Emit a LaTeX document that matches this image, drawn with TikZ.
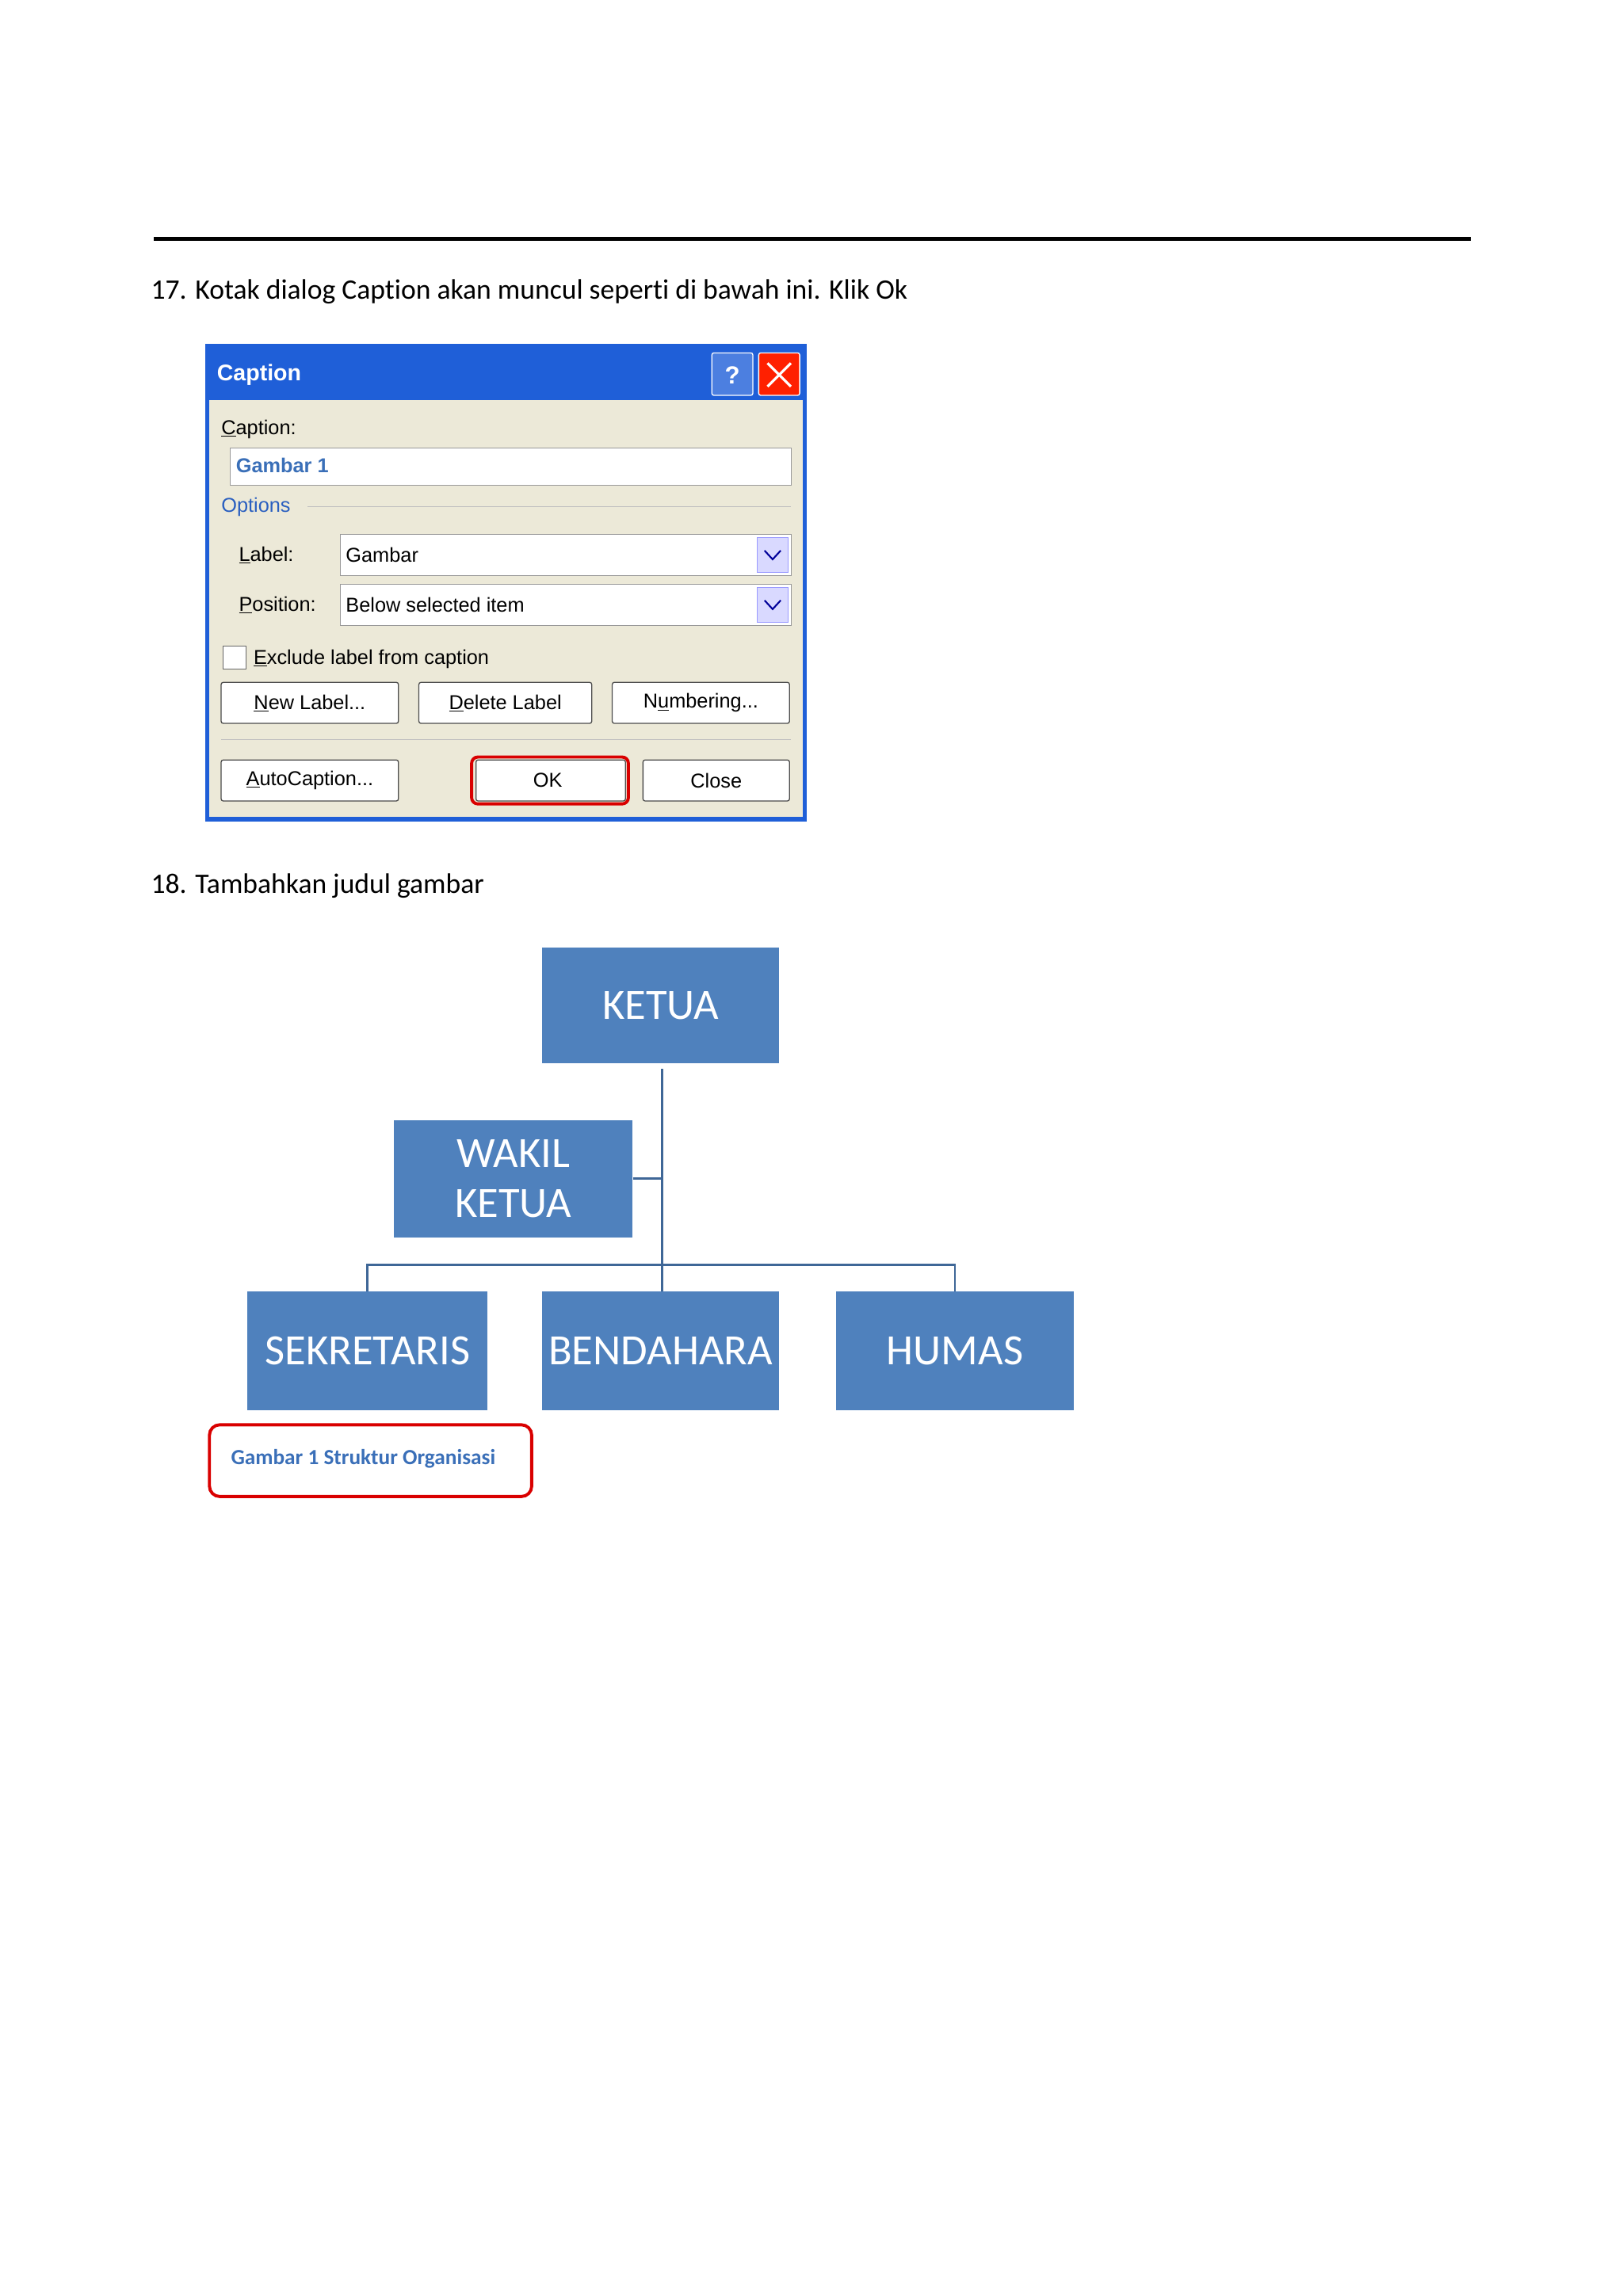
\documentclass[tikz,border=0pt]{standalone}
\usepackage{fontspec}
\setmainfont[Ligatures=NoCommon]{Carlito}
\newfontfamily\dlg{Liberation Sans}
\definecolor{orgblue}{HTML}{4F81BD}
\definecolor{xpblue}{HTML}{1F5FD8}
\definecolor{xpbody}{HTML}{ECE9D8}
\definecolor{capblue}{HTML}{3A6FB8}
\definecolor{optblue}{HTML}{2A5FC0}
\begin{document}
\begin{tikzpicture}[x=0.05cm,y=-0.05cm,
  body/.style={anchor=west,inner sep=0,font=\fontsize{27.4}{32}\selectfont},
  dtext/.style={anchor=west,inner sep=0,font=\dlg\fontsize{19.5}{23}\selectfont},
  org/.style={fill=orgblue,text=white,font=\fontsize{42}{48}\selectfont,align=center,inner sep=0},
  btn/.style={draw=black!70,rounded corners=2pt,fill=white,line width=1pt},
  conn/.style={draw=orgblue!80!black,line width=2.2pt}]
\useasboundingbox (0,0) rectangle (1108,1568);
\fill[white] (0,0) rectangle (1108,1568);
\draw[line width=4pt] (105,163) -- (1004,163);
\node[body] (t17) at (103,199) {17. Kotak dialog Caption akan muncul seperti di bawah ini. Klik Ok};
\node[body] (t18) at (103,605) {18. Tambahkan judul gambar};
% dialog
\fill[xpblue] (140,235) rectangle (551,561);
\fill[xpbody] (143,273) rectangle (548,558);
\node[anchor=west,inner sep=0,text=white,font=\dlg\bfseries\fontsize{22}{26}\selectfont] (title) at (148,256) {Caption};
\filldraw[fill=xpblue!80!white,draw=white,line width=1pt,rounded corners=2pt] (486,241) rectangle (514,270);
\node[text=white,font=\dlg\bfseries\fontsize{24}{26}\selectfont] (q) at (500,256) {?};
\filldraw[fill=red!75!orange,draw=white,line width=1pt,rounded corners=2pt] (518,241) rectangle (546,270);
\draw[white,line width=2.5pt] (524,248) -- (540,264) (540,248) -- (524,264);
\node[dtext] (lcap) at (151,293) {\underline{C}aption:};
\filldraw[fill=white,draw=black!40] (157,306) rectangle (540,331);
\node[anchor=west,inner sep=0,text=capblue,font=\dlg\bfseries\fontsize{19.5}{23}\selectfont] (gam) at (161,318) {Gambar 1};
\node[dtext,text=optblue] (opt) at (151,346) {Options};
\draw[black!25] (210,346) -- (540,346);
\node[dtext] (llab) at (163,379) {\underline{L}abel:};
\filldraw[fill=white,draw=black!40] (232,365) rectangle (540,393);
\node[dtext] (vlab) at (236,379) {Gambar};
\filldraw[fill=blue!15,draw=blue!40] (517,367) rectangle (538,391);
\draw[blue!60!black,line width=1.6pt] (522,376) -- (527.5,382) -- (533,376);
\node[dtext] (lpos) at (163,413) {\underline{P}osition:};
\filldraw[fill=white,draw=black!40] (232,399) rectangle (540,427);
\node[dtext] (vpos) at (236,413) {Below selected item};
\filldraw[fill=blue!15,draw=blue!40] (517,401) rectangle (538,425);
\draw[blue!60!black,line width=1.6pt] (522,410) -- (527.5,416) -- (533,410);
\filldraw[fill=white,draw=black!60] (152,441) rectangle (168,457);
\node[dtext] (excl) at (173,450) {\underline{E}xclude label from caption};
\draw[btn] (151,466) rectangle (272,494);
\node[dtext,anchor=center] (b1) at (211.5,480) {\underline{N}ew Label...};
\draw[btn] (286,466) rectangle (404,494);
\node[dtext,anchor=center] (b2) at (345,480) {\underline{D}elete Label};
\draw[btn] (418,466) rectangle (539,494);
\node[dtext,anchor=center] (b3) at (478.5,480) {N\underline{u}mbering...};
\draw[black!25] (151,505) -- (540,505);
\draw[btn] (151,519) rectangle (272,547);
\node[dtext,anchor=center] (b4) at (211.5,533) {\underline{A}utoCaption...};
\draw[btn] (325,519) rectangle (427,547);
\draw[red!85!black,line width=3pt,rounded corners=6pt] (322,517) rectangle (429,549);
\node[dtext,anchor=center] (b5) at (374,533) {OK};
\draw[btn] (439,519) rectangle (539,547);
\node[dtext,anchor=center] (b6) at (489,533) {Close};
% org chart
\node[org,minimum width=162*0.05cm,minimum height=79*0.05cm] (ketua) at (451,686.5) {KETUA};
\node[org,minimum width=163*0.05cm,minimum height=80*0.05cm] (wakil) at (350.5,805) {WAKIL\\KETUA};
\node[org,minimum width=164*0.05cm,minimum height=81*0.05cm] (sek) at (251,922.5) {SEKRETARIS};
\node[org,minimum width=162*0.05cm,minimum height=81*0.05cm] (ben) at (451,922.5) {BENDAHARA};
\node[org,minimum width=162*0.05cm,minimum height=81*0.05cm] (hum) at (652,922.5) {HUMAS};
\coordinate (hub) at (452,864);
\draw[conn] (452,730) -- (ben.north -| 452,0);
\draw[conn] (wakil.east) -- (452,805);
\draw[conn] (sek.north) -- (sek.north |- hub) -- (hum.north |- hub) -- (hum.north);
\draw[red!85!black,line width=3pt,rounded corners=10pt] (143,973) rectangle (363,1022);
\node[inner sep=0,text=capblue,font=\bfseries\fontsize{21}{24}\selectfont] (cap) at (248,996) {Gambar 1 Struktur Organisasi};
\end{tikzpicture}
\end{document}
